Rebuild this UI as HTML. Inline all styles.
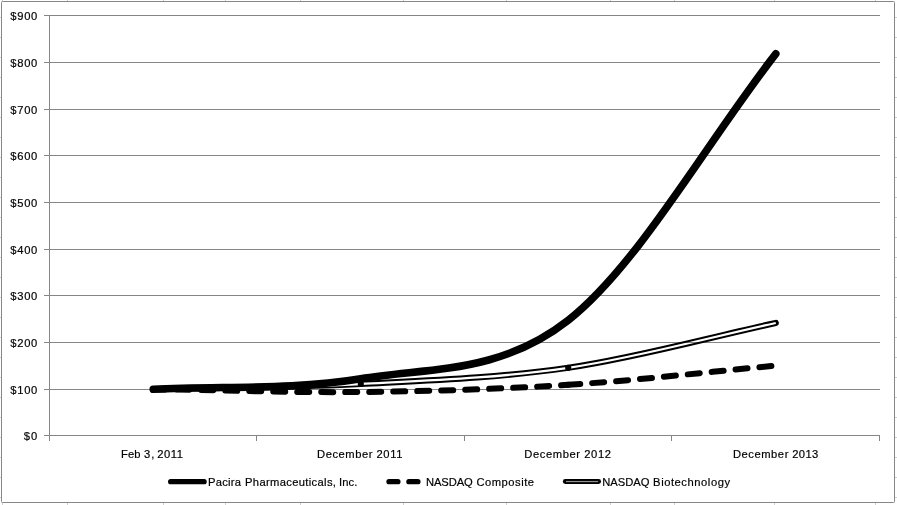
<!DOCTYPE html>
<html><head><meta charset="utf-8"><title>Stock Performance Graph</title>
<style>
html,body{margin:0;padding:0;background:#fff;}
body{width:897px;height:505px;overflow:hidden;}
svg{display:block;}
text{font-family:"Liberation Sans",sans-serif;font-size:11.2px;fill:#000;stroke:#000;stroke-width:0.18px;}
</style></head><body>
<svg width="897" height="505" viewBox="0 0 897 505">
<rect x="0" y="0" width="897" height="505" fill="#fff"/>
<g stroke="#d0d0d0" stroke-width="1" shape-rendering="crispEdges">
<line x1="2.5" y1="0" x2="2.5" y2="505"/>
<line x1="67.5" y1="0" x2="67.5" y2="505"/>
<line x1="163.5" y1="0" x2="163.5" y2="505"/>
<line x1="225.5" y1="0" x2="225.5" y2="505"/>
<line x1="300.5" y1="0" x2="300.5" y2="505"/>
<line x1="403.5" y1="0" x2="403.5" y2="505"/>
<line x1="506.5" y1="0" x2="506.5" y2="505"/>
<line x1="610.5" y1="0" x2="610.5" y2="505"/>
<line x1="674.5" y1="0" x2="674.5" y2="505"/>
<line x1="774.5" y1="0" x2="774.5" y2="505"/>
<line x1="875.5" y1="0" x2="875.5" y2="505"/>
<line x1="0" y1="17.5" x2="897" y2="17.5"/>
<line x1="0" y1="37.5" x2="897" y2="37.5"/>
<line x1="0" y1="57.5" x2="897" y2="57.5"/>
<line x1="0" y1="77.5" x2="897" y2="77.5"/>
<line x1="0" y1="97.5" x2="897" y2="97.5"/>
<line x1="0" y1="117.5" x2="897" y2="117.5"/>
<line x1="0" y1="137.5" x2="897" y2="137.5"/>
<line x1="0" y1="157.5" x2="897" y2="157.5"/>
<line x1="0" y1="177.5" x2="897" y2="177.5"/>
<line x1="0" y1="197.5" x2="897" y2="197.5"/>
<line x1="0" y1="217.5" x2="897" y2="217.5"/>
<line x1="0" y1="237.5" x2="897" y2="237.5"/>
<line x1="0" y1="257.5" x2="897" y2="257.5"/>
<line x1="0" y1="277.5" x2="897" y2="277.5"/>
<line x1="0" y1="297.5" x2="897" y2="297.5"/>
<line x1="0" y1="317.5" x2="897" y2="317.5"/>
<line x1="0" y1="337.5" x2="897" y2="337.5"/>
<line x1="0" y1="357.5" x2="897" y2="357.5"/>
<line x1="0" y1="377.5" x2="897" y2="377.5"/>
<line x1="0" y1="397.5" x2="897" y2="397.5"/>
<line x1="0" y1="417.5" x2="897" y2="417.5"/>
<line x1="0" y1="437.5" x2="897" y2="437.5"/>
<line x1="0" y1="457.5" x2="897" y2="457.5"/>
<line x1="0" y1="477.5" x2="897" y2="477.5"/>
<line x1="0" y1="497.5" x2="897" y2="497.5"/>
</g>
<rect x="1.5" y="1.5" width="893" height="501" rx="1" ry="1" fill="#fff" stroke="#868686" stroke-width="1"/>
<g stroke="#868686" stroke-width="1" shape-rendering="crispEdges">
<line x1="44" y1="15.5" x2="880" y2="15.5"/>
<line x1="44" y1="62.5" x2="880" y2="62.5"/>
<line x1="44" y1="109.5" x2="880" y2="109.5"/>
<line x1="44" y1="155.5" x2="880" y2="155.5"/>
<line x1="44" y1="202.5" x2="880" y2="202.5"/>
<line x1="44" y1="249.5" x2="880" y2="249.5"/>
<line x1="44" y1="295.5" x2="880" y2="295.5"/>
<line x1="44" y1="342.5" x2="880" y2="342.5"/>
<line x1="44" y1="389.5" x2="880" y2="389.5"/>
<line x1="44" y1="435.5" x2="880" y2="435.5"/>
<line x1="49.5" y1="15" x2="49.5" y2="441"/>
<line x1="256.5" y1="435" x2="256.5" y2="441"/>
<line x1="464.5" y1="435" x2="464.5" y2="441"/>
<line x1="671.5" y1="435" x2="671.5" y2="441"/>
<line x1="879.5" y1="435" x2="879.5" y2="441"/>
</g>
<text x="37.3" y="20.0" text-anchor="end" textLength="27.0" lengthAdjust="spacing">$900</text>
<text x="37.3" y="67.0" text-anchor="end" textLength="27.0" lengthAdjust="spacing">$800</text>
<text x="37.3" y="114.0" text-anchor="end" textLength="27.0" lengthAdjust="spacing">$700</text>
<text x="37.3" y="160.0" text-anchor="end" textLength="27.0" lengthAdjust="spacing">$600</text>
<text x="37.3" y="207.0" text-anchor="end" textLength="27.0" lengthAdjust="spacing">$500</text>
<text x="37.3" y="254.0" text-anchor="end" textLength="27.0" lengthAdjust="spacing">$400</text>
<text x="37.3" y="300.0" text-anchor="end" textLength="27.0" lengthAdjust="spacing">$300</text>
<text x="37.3" y="347.0" text-anchor="end" textLength="27.0" lengthAdjust="spacing">$200</text>
<text x="37.3" y="394.0" text-anchor="end" textLength="27.0" lengthAdjust="spacing">$100</text>
<text x="37.3" y="440.0" text-anchor="end" textLength="13.5" lengthAdjust="spacing">$0</text>
<text y="458.0"><tspan x="121.12" textLength="19.44" lengthAdjust="spacing">Feb</tspan> <tspan x="144.04" textLength="10.28" lengthAdjust="spacing">3,</tspan> <tspan x="157.26" textLength="25.75" lengthAdjust="spacing">2011</tspan></text>
<text y="458.0"><tspan x="317.12" textLength="55.27" lengthAdjust="spacing">December</tspan> <tspan x="376.42" textLength="26.08" lengthAdjust="spacing">2011</tspan></text>
<text y="458.0"><tspan x="524.34" textLength="55.69" lengthAdjust="spacing">December</tspan> <tspan x="584.18" textLength="26.80" lengthAdjust="spacing">2012</tspan></text>
<text y="458.0"><tspan x="732.93" textLength="55.44" lengthAdjust="spacing">December</tspan> <tspan x="792.34" textLength="25.83" lengthAdjust="spacing">2013</tspan></text>
<text y="485.8"><tspan x="208.12" textLength="32.76" lengthAdjust="spacing">Pacira</tspan> <tspan x="245.01" textLength="90.92" lengthAdjust="spacing">Pharmaceuticals,</tspan> <tspan x="338.95" textLength="18.43" lengthAdjust="spacing">Inc.</tspan></text>
<text y="485.8"><tspan x="425.93" textLength="46.79" lengthAdjust="spacing">NASDAQ</tspan> <tspan x="476.38" textLength="57.69" lengthAdjust="spacing">Composite</tspan></text>
<text y="485.8"><tspan x="602.34" textLength="46.99" lengthAdjust="spacing">NASDAQ</tspan> <tspan x="653.12" textLength="76.90" lengthAdjust="spacing">Biotechnology</tspan></text>
<defs><mask id="gap" maskUnits="userSpaceOnUse" x="0" y="0" width="897" height="505"><rect x="0" y="0" width="897" height="505" fill="#fff"/><path d="M153.25 389.20 C222.42 387.47 291.58 387.57 360.75 384.00 C429.92 380.43 499.08 377.97 568.25 367.80 C637.42 357.63 706.58 337.93 775.75 323.00" fill="none" stroke="#000" stroke-width="2.3" stroke-linecap="butt"/></mask></defs>
<g fill="none" stroke-linecap="round" stroke-linejoin="round">
<path d="M153.25 389.20 C222.42 385.73 291.58 390.30 360.75 378.80 C429.92 367.30 499.08 374.37 568.25 320.20 C637.42 266.03 706.58 142.60 775.75 53.80" stroke="#000" stroke-width="7.6"/>
<path d="M153.25 389.20 C222.42 390.13 291.58 392.73 360.75 392.00 C429.92 391.27 499.08 389.20 568.25 384.80" stroke="#000" stroke-width="6" stroke-dasharray="12 12"/>
<path d="M568.25 384.80 C637.42 380.40 706.58 372.00 775.75 365.60" stroke="#000" stroke-width="6" stroke-dasharray="12 12"/>
<path d="M153.25 389.20 C222.42 387.47 291.58 387.57 360.75 384.00 C429.92 380.43 499.08 377.97 568.25 367.80 C637.42 357.63 706.58 337.93 775.75 323.00" stroke="#000" stroke-width="6.2" mask="url(#gap)"/>
</g>
<circle cx="360.8" cy="384.0" r="3.1" fill="#000"/>
<circle cx="568.2" cy="367.8" r="3.1" fill="#000"/>
<g fill="none" stroke-linecap="round">
<line x1="170.7" y1="481.7" x2="204.1" y2="481.7" stroke="#000" stroke-width="5.3"/>
<line x1="389" y1="481.7" x2="397.9" y2="481.7" stroke="#000" stroke-width="5.3"/>
<line x1="408.9" y1="481.7" x2="417.9" y2="481.7" stroke="#000" stroke-width="5.3"/>
<line x1="565.3" y1="481.55" x2="598.6" y2="481.55" stroke="#000" stroke-width="4.9"/>
<line x1="566" y1="481.55" x2="598" y2="481.55" stroke="#909090" stroke-width="1.2" stroke-linecap="butt"/>
</g>
</svg>
</body></html>
